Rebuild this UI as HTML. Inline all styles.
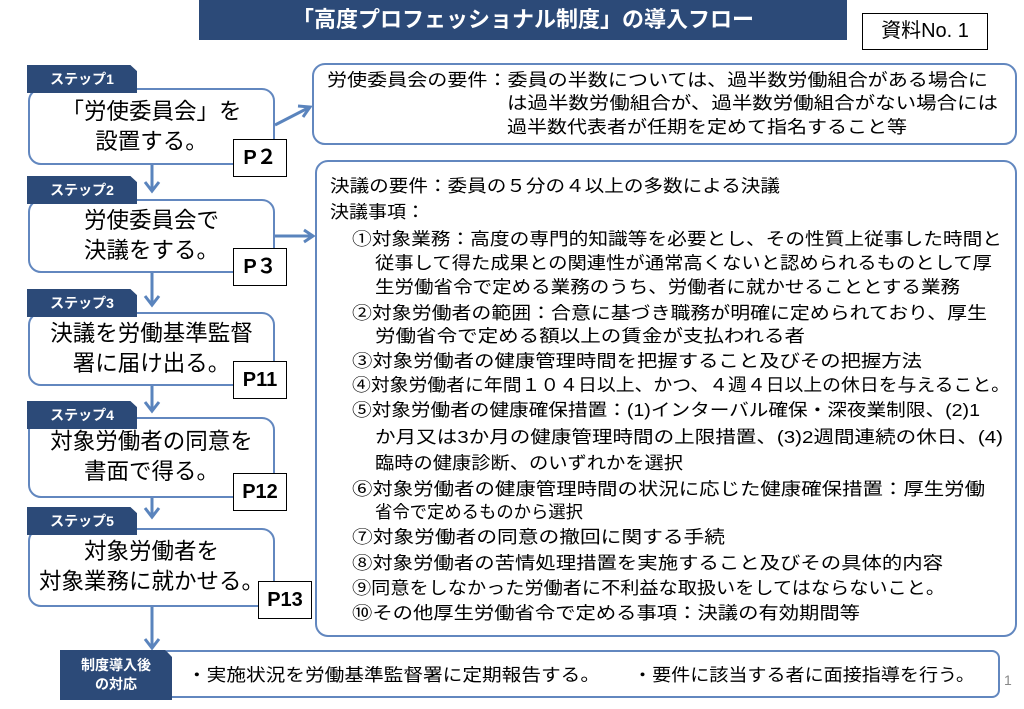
<!DOCTYPE html>
<html><head><meta charset="utf-8"><style>
body{margin:0;width:1024px;height:709px;background:#fff;position:relative;overflow:hidden;font-family:"Liberation Sans","Noto Sans CJK JP",sans-serif;color:#000}
.a{position:absolute}
.title{left:199px;top:0;width:648px;height:40px;background:#2c4a78;color:#fff;font-size:22px;font-weight:bold;text-align:center;line-height:40px}
.doc{left:862px;top:13px;width:124px;height:35px;border:1.5px solid #000;font-size:20px;text-align:center;line-height:35px}
.tab{background:#2c4a78;color:#fff;font-size:14px;font-weight:bold;text-align:center;height:28px;line-height:28px;width:110px;left:27px;clip-path:polygon(0 0,94% 0,100% 22%,100% 100%,0 100%)}
.box{border:2.5px solid #6287bf;border-radius:13px;background:#fff;box-sizing:border-box}
.st{left:28px;width:247px;font-size:22.5px;text-align:center;line-height:30px}
.p{background:#fff;border:1.5px solid #000;font-size:20px;font-weight:bold;text-align:center;box-sizing:border-box;width:54px;height:38px;line-height:36px}
svg text{font-family:"Liberation Sans","Noto Sans CJK JP",sans-serif;font-size:17.5px}
</style></head><body>
<svg class="a" style="left:0;top:0" width="1024" height="709">
<g stroke="#5a84bd" stroke-width="3" fill="none">
<line x1="152" y1="165" x2="152" y2="190"/><polyline points="145,182 152,191 159,182"/>
<line x1="152" y1="273" x2="152" y2="304"/><polyline points="145,296 152,305 159,296"/>
<line x1="152" y1="386" x2="152" y2="410"/><polyline points="145,402 152,411 159,402"/>
<line x1="152" y1="498" x2="152" y2="516"/><polyline points="145,508 152,517 159,508"/>
<line x1="152" y1="607" x2="152" y2="648"/><polyline points="145,639 152,648 159,639"/>
<line x1="275" y1="125" x2="310" y2="107"/><polyline points="298,106 310,107 303,117"/>
<line x1="275" y1="236" x2="313" y2="236"/><polyline points="304,230 313,236 304,242"/>
</g></svg>
<div class="a title">「高度プロフェッショナル制度」の導入フロー</div>
<div class="a doc">資料No. 1</div>

<div class="a box" style="left:28px;top:88px;width:247px;height:77px"></div>
<div class="a tab" style="top:65px">ステップ1</div>
<div class="a st" style="top:97px">「労使委員会」を<br>設置する。</div>
<div class="a p" style="left:233px;top:139px">P２</div>

<div class="a box" style="left:28px;top:199px;width:247px;height:74px"></div>
<div class="a tab" style="top:176px">ステップ2</div>
<div class="a st" style="top:206px">労使委員会で<br>決議をする。</div>
<div class="a p" style="left:233px;top:248px">P３</div>

<div class="a box" style="left:28px;top:312px;width:247px;height:74px"></div>
<div class="a tab" style="top:289px">ステップ3</div>
<div class="a st" style="top:319px">決議を労働基準監督<br>署に届け出る。</div>
<div class="a p" style="left:233px;top:361px">P11</div>

<div class="a box" style="left:28px;top:417px;width:247px;height:81px"></div>
<div class="a tab" style="top:401px">ステップ4</div>
<div class="a st" style="top:427px">対象労働者の同意を<br>書面で得る。</div>
<div class="a p" style="left:233px;top:473px">P12</div>

<div class="a box" style="left:28px;top:528px;width:247px;height:79px"></div>
<div class="a tab" style="top:507px">ステップ5</div>
<div class="a st" style="top:537px">対象労働者を<br>対象業務に就かせる。</div>
<div class="a p" style="left:258px;top:581px">P13</div>

<div class="a box" style="left:312px;top:63px;width:705px;height:82px"></div>
<div class="a box" style="left:315px;top:160px;width:702px;height:477px"></div>
<div class="a box" style="left:160px;top:650px;width:840px;height:48px;border-radius:8px"></div>
<div class="a" style="left:60px;top:650px;width:112px;height:50px;background:#2c4a78;color:#fff;font-size:14px;font-weight:bold;text-align:center;line-height:19px;padding-top:6px;box-sizing:border-box;clip-path:polygon(0 0,94% 0,100% 14%,100% 100%,0 100%)">制度導入後<br>の対応</div>
<div class="a" style="left:1004px;top:672px;font-size:14px;color:#888">1</div>

<svg class="a" style="left:0;top:0" width="1024" height="709">
<g lengthAdjust="spacingAndGlyphs">
<text x="327" y="86" textLength="661" lengthAdjust="spacingAndGlyphs">労使委員会の要件：委員の半数については、過半数労働組合がある場合に</text>
<text x="507" y="109" textLength="491" lengthAdjust="spacingAndGlyphs">は過半数労働組合が、過半数労働組合がない場合には</text>
<text x="507" y="133" textLength="400" lengthAdjust="spacingAndGlyphs">過半数代表者が任期を定めて指名すること等</text>

<text x="330" y="192" textLength="450" lengthAdjust="spacingAndGlyphs">決議の要件：委員の５分の４以上の多数による決議</text>
<text x="330" y="218" textLength="95" lengthAdjust="spacingAndGlyphs">決議事項：</text>
<text x="352" y="245" textLength="650" lengthAdjust="spacingAndGlyphs">①対象業務：高度の専門的知識等を必要とし、その性質上従事した時間と</text>
<text x="375" y="269" textLength="617" lengthAdjust="spacingAndGlyphs">従事して得た成果との関連性が通常高くないと認められるものとして厚</text>
<text x="375" y="293" textLength="585" lengthAdjust="spacingAndGlyphs">生労働省令で定める業務のうち、労働者に就かせることとする業務</text>
<text x="352" y="319" textLength="635" lengthAdjust="spacingAndGlyphs">②対象労働者の範囲：合意に基づき職務が明確に定められており、厚生</text>
<text x="375" y="342" textLength="430" lengthAdjust="spacingAndGlyphs">労働省令で定める額以上の賃金が支払われる者</text>
<text x="352" y="367" textLength="570" lengthAdjust="spacingAndGlyphs">③対象労働者の健康管理時間を把握すること及びその把握方法</text>
<text x="352" y="391" textLength="658" lengthAdjust="spacingAndGlyphs">④対象労働者に年間１０４日以上、かつ、４週４日以上の休日を与えること。</text>
<text x="352" y="416" textLength="628" lengthAdjust="spacingAndGlyphs">⑤対象労働者の健康確保措置：(1)インターバル確保・深夜業制限、(2)1</text>
<text x="375" y="443" textLength="628" lengthAdjust="spacingAndGlyphs">か月又は3か月の健康管理時間の上限措置、(3)2週間連続の休日、(4)</text>
<text x="375" y="469" textLength="308" lengthAdjust="spacingAndGlyphs">臨時の健康診断、のいずれかを選択</text>
<text x="352" y="495" textLength="633" lengthAdjust="spacingAndGlyphs">⑥対象労働者の健康管理時間の状況に応じた健康確保措置：厚生労働</text>
<text x="375" y="518" textLength="208" lengthAdjust="spacingAndGlyphs">省令で定めるものから選択</text>
<text x="352" y="543" textLength="373" lengthAdjust="spacingAndGlyphs">⑦対象労働者の同意の撤回に関する手続</text>
<text x="352" y="569" textLength="591" lengthAdjust="spacingAndGlyphs">⑧対象労働者の苦情処理措置を実施すること及びその具体的内容</text>
<text x="352" y="594" textLength="593" lengthAdjust="spacingAndGlyphs">⑨同意をしなかった労働者に不利益な取扱いをしてはならないこと。</text>
<text x="352" y="619" textLength="508" lengthAdjust="spacingAndGlyphs">⑩その他厚生労働省令で定める事項：決議の有効期間等</text>

<text x="187" y="681" textLength="413" lengthAdjust="spacingAndGlyphs">・実施状況を労働基準監督署に定期報告する。</text>
<text x="633" y="681" textLength="342" lengthAdjust="spacingAndGlyphs">・要件に該当する者に面接指導を行う。</text>
</g></svg>
</body></html>
